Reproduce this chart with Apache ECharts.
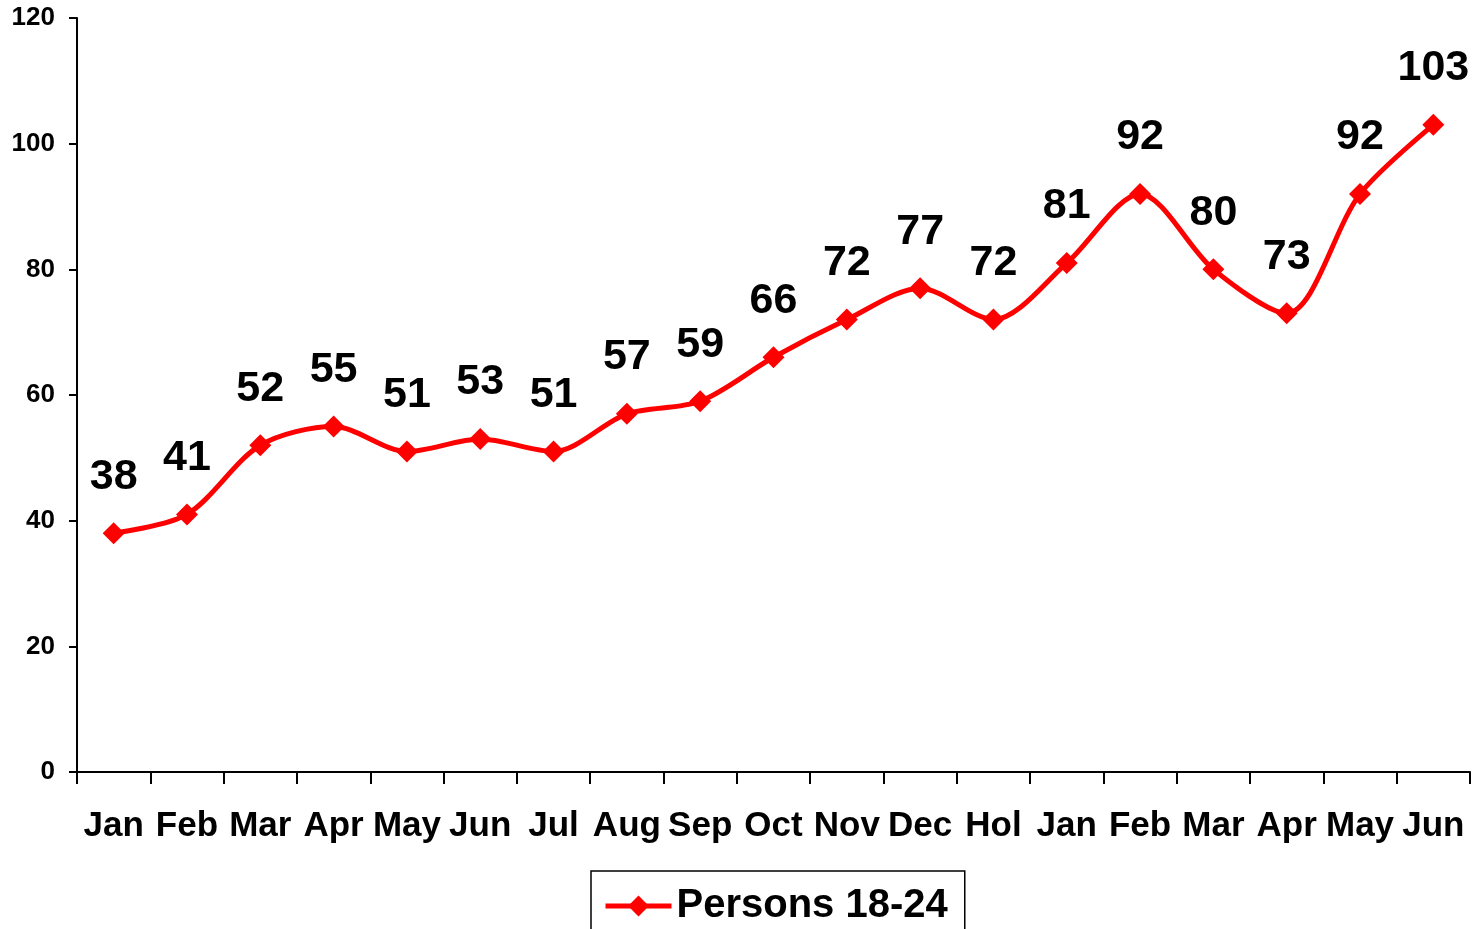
<!DOCTYPE html>
<html>
<head>
<meta charset="utf-8">
<script src="https://cdn.jsdelivr.net/npm/echarts@6/dist/echarts.min.js"></script>
<style>
html,body{margin:0;padding:0;background:#fff;}
#chart{width:1479px;height:929px;}
</style>
</head>
<body>
<div id="chart"></div>
<script>
var months = ['Jan','Feb','Mar','Apr','May','Jun','Jul','Aug','Sep','Oct','Nov','Dec','Hol','Jan','Feb','Mar','Apr','May','Jun'];
var persons = [38,41,52,55,51,53,51,57,59,66,72,77,72,81,92,80,73,92,103];
var seriesName = 'Persons 18-24';

var myChart = echarts.init(document.getElementById('chart'));
var fontName = '"Liberation Sans", Arial, sans-serif';

var option = {
    animation: false,
    backgroundColor: '#fff',
    grid: {left: 77, right: 9, top: 18, bottom: 157},
    legend: {
        data: [seriesName],
        top: 871,
        left: 591,
        itemWidth: 66,
        itemHeight: 26,
        itemGap: 10,
        padding: [15, 17, 40, 12],
        borderColor: '#000',
        borderWidth: 1.5,
        borderRadius: 0,
        lineStyle: {width: 5},
        textStyle: {fontFamily: fontName, fontWeight: 'bold', fontSize: 40, color: '#000'}
    },
    xAxis: {
        type: 'category',
        data: months,
        boundaryGap: true,
        axisLine: {lineStyle: {color: '#000', width: 2}},
        axisTick: {show: true, length: 12, lineStyle: {color: '#000', width: 2}},
        axisLabel: {interval: 0, margin: 37, color: '#000', fontFamily: fontName, fontWeight: 'bold', fontSize: 35}
    },
    yAxis: {
        type: 'value',
        min: 0,
        max: 120,
        interval: 20,
        splitLine: {show: false},
        axisLine: {show: true, lineStyle: {color: '#000', width: 2}},
        axisTick: {show: true, length: 8, lineStyle: {color: '#000', width: 2}},
        axisLabel: {margin: 22, color: '#000', fontFamily: fontName, fontWeight: 'bold', fontSize: 26}
    },
    series: [{
        name: seriesName,
        type: 'line',
        data: persons,
        smooth: 0.3,
        symbol: 'diamond',
        symbolSize: 22,
        itemStyle: {color: '#ff0000'},
        lineStyle: {color: '#ff0000', width: 5},
        label: {
            show: true,
            position: 'top',
            distance: 24,
            color: '#000',
            fontFamily: fontName,
            fontWeight: 'bold',
            fontSize: 43
        }
    }]
};
myChart.setOption(option);
</script>
</body>
</html>
